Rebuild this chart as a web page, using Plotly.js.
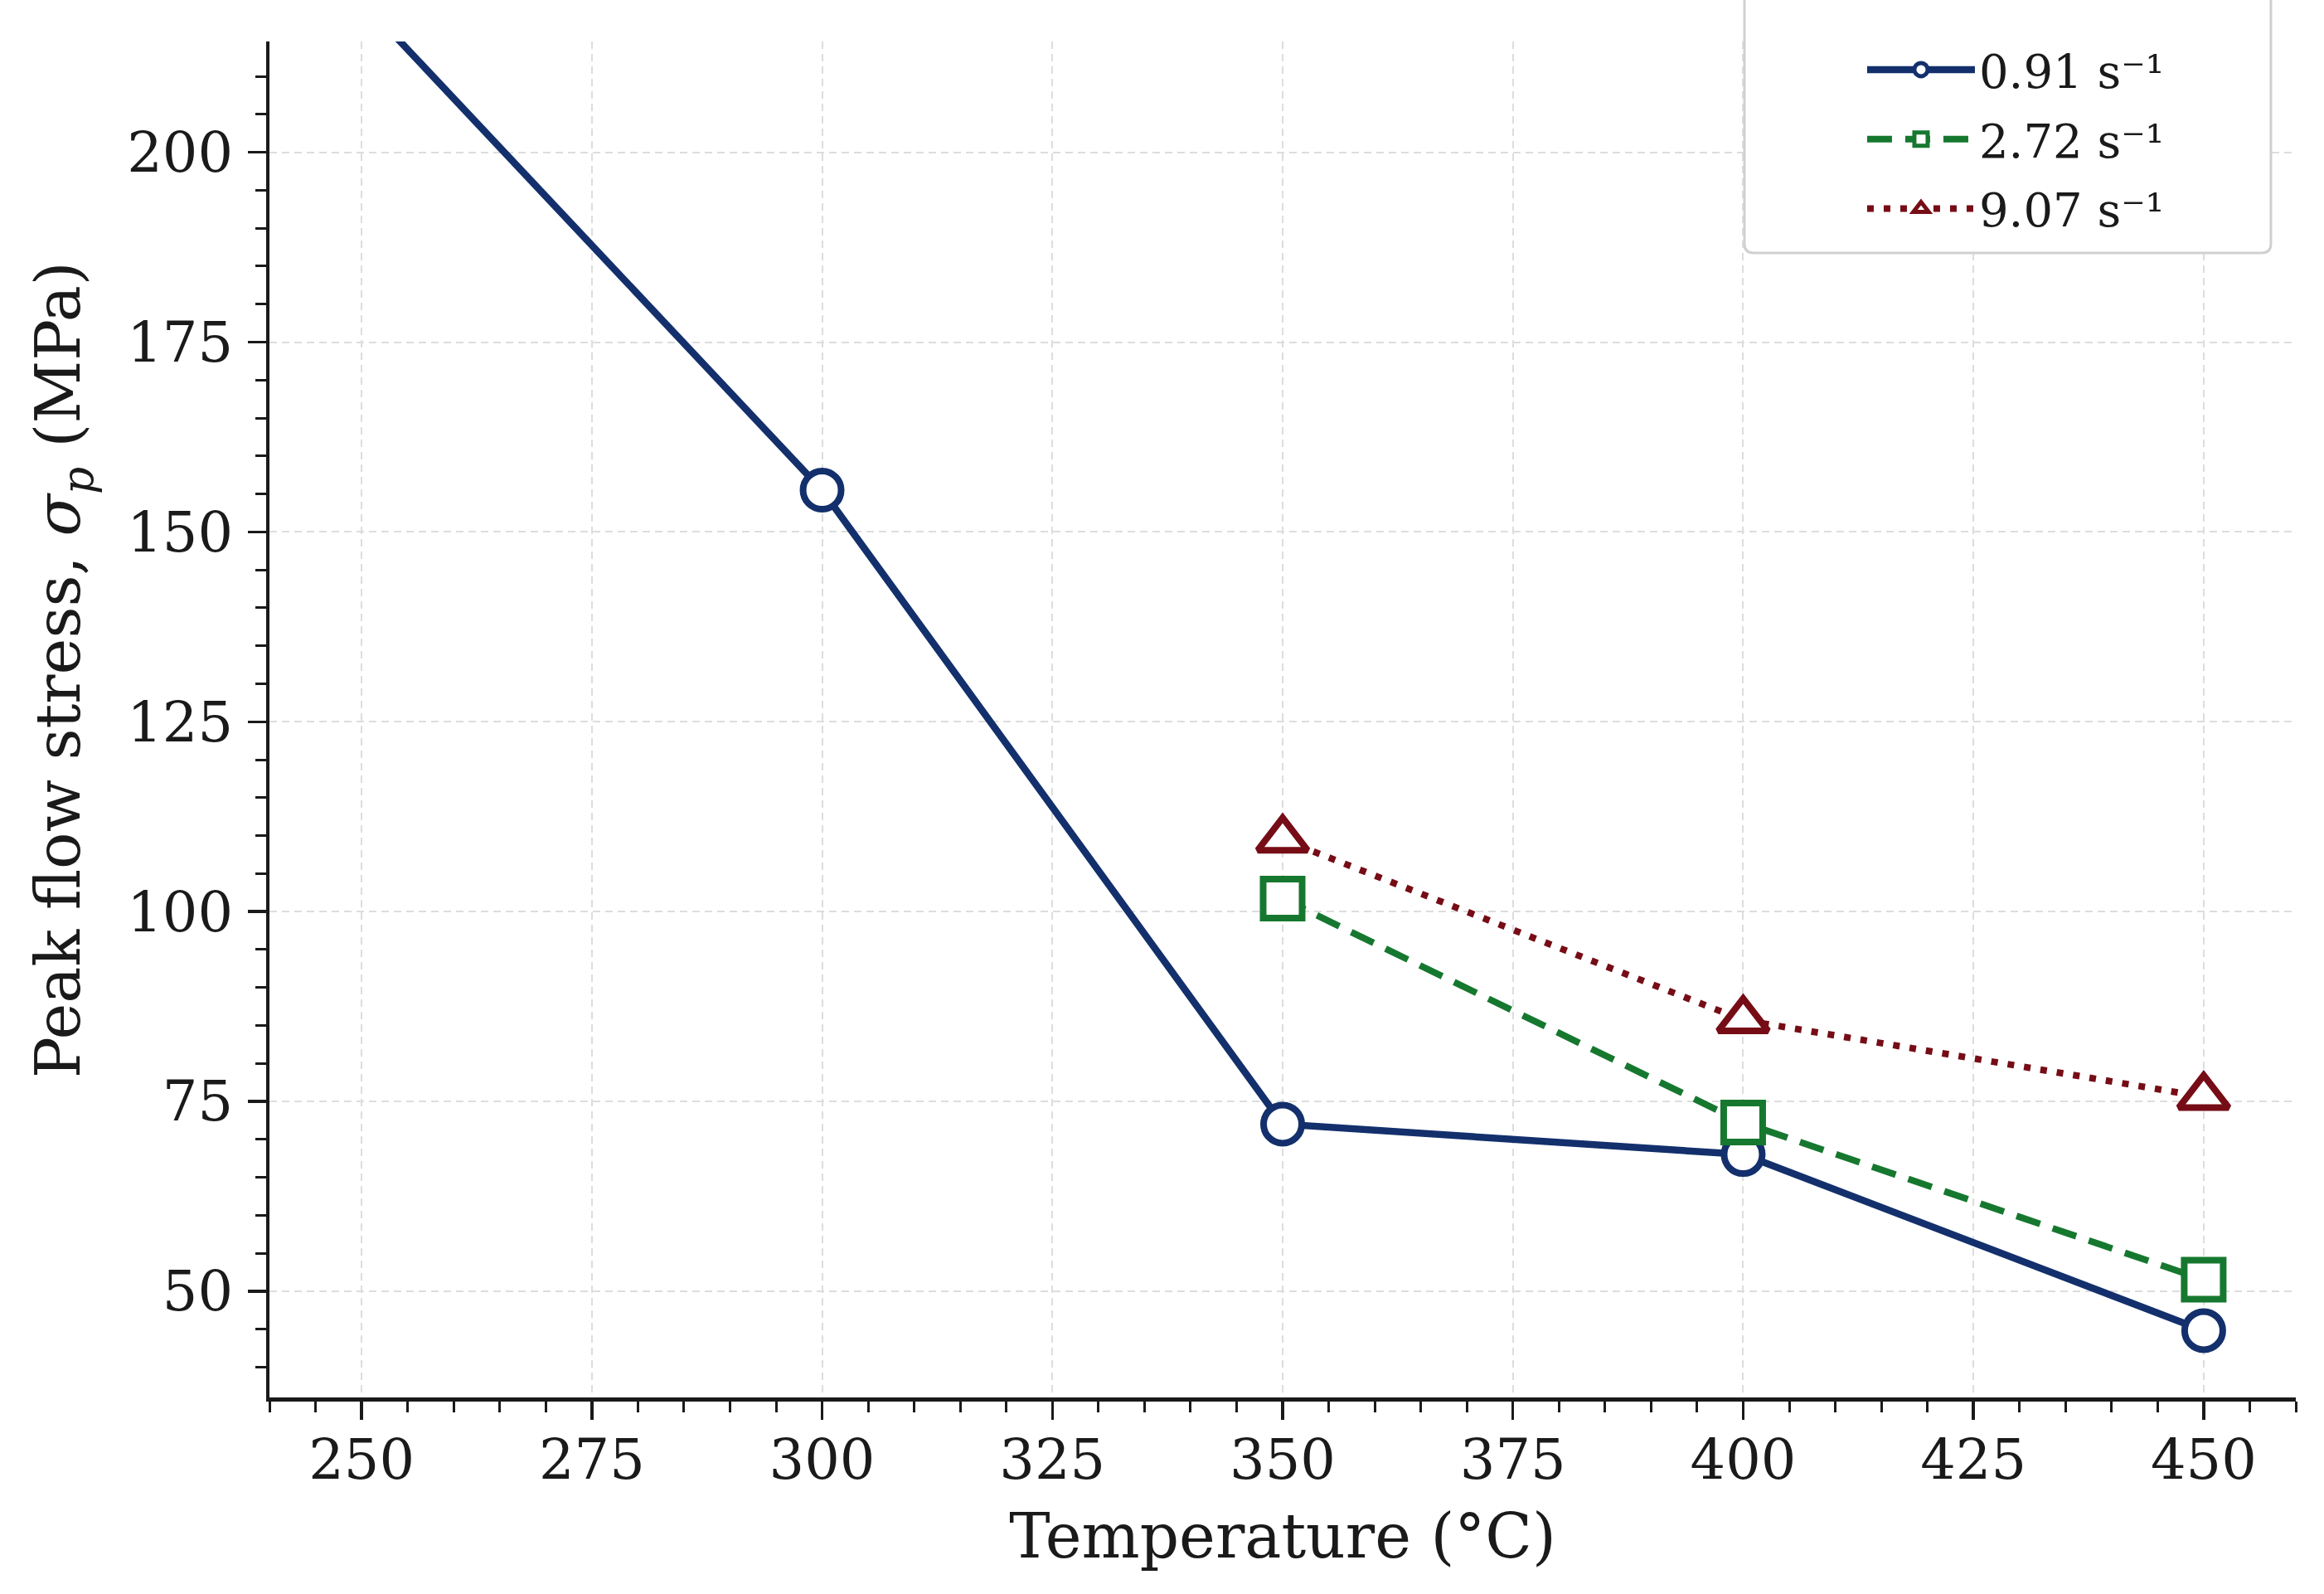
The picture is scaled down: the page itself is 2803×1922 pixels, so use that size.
<!DOCTYPE html>
<html>
<head>
<meta charset="utf-8">
<script src="https://cdn.plot.ly/plotly-3.0.1.min.js"></script>
<style>
  html, body { margin: 0; padding: 0; background: #ffffff; }
  #chart { width: 2803px; height: 1922px; }
</style>
</head>
<body>
<div id="chart"></div>
<script>
// Data
const temperature = [250, 300, 350, 400, 450];
const temps_hi = [350, 400, 450];
const stress_091 = [220, 155.5, 72, 68, 44.8];
const stress_272 = [101.7, 72.2, 51.5];
const stress_907 = [109.5, 85.7, 75.6];
const seriesNames = ["0.91 s⁻¹", "2.72 s⁻¹", "9.07 s⁻¹"];
const xTicks = [250, 275, 300, 325, 350, 375, 400, 425, 450];
const yTicks = [50, 75, 100, 125, 150, 175, 200];
const xTitle = "Temperature (°C)";
const yTitle = "Peak flow stress, <i>σ</i><sub><i>p</i></sub> (MPa)";

const FONT = "DejaVu Serif, Liberation Serif, serif";
const INK = "#1a1a1a";
const BLUE = "#13306c";
const GREEN = "#16782f";
const RED = "#760d16";

const traces = [
  {
    x: temperature, y: stress_091, name: seriesNames[0], legendgroup: "a", type: "scatter", mode: "lines+markers",
    line: { color: BLUE, width: 8.5, dash: "solid" },
    marker: { symbol: "circle", size: 46, color: "#ffffff", line: { color: BLUE, width: 8 } }
  },
  {
    x: temps_hi, y: stress_272, name: seriesNames[1], legendgroup: "b", type: "scatter", mode: "lines+markers",
    line: { color: GREEN, width: 8, dash: "30px,16px" },
    marker: { symbol: "square", size: 47, color: "#ffffff", line: { color: GREEN, width: 8 } }
  },
  {
    x: temps_hi, y: stress_907, name: seriesNames[2], legendgroup: "c", type: "scatter", mode: "lines+markers",
    line: { color: RED, width: 8, dash: "8px,12px" },
    marker: { symbol: "triangle-up", size: 52, color: "#ffffff", line: { color: RED, width: 8 } }
  }
];

const axisCommon = {
  showline: true, linecolor: INK, linewidth: 4.5,
  ticks: "outside", ticklen: 22, tickwidth: 3.5, tickcolor: INK,
  showgrid: true, gridcolor: "#dddddd", gridwidth: 2, griddash: "9px,6px",
  zeroline: false, mirror: false,
  tickfont: { family: FONT, size: 67, color: INK }
};

// rounded legend frame (paper coordinates)
const fx0 = 0.7279, fx1 = 0.9877, fyb = 0.844, fyt = 1.2, rx = 0.0045, ry = 0.0067;
const framePath = `M${fx0},${fyt} L${fx0},${fyb + ry} Q${fx0},${fyb} ${fx0 + rx},${fyb} L${fx1 - rx},${fyb} Q${fx1},${fyb} ${fx1},${fyb + ry} L${fx1},${fyt} Z`;

const layout = {
  width: 2803, height: 1922,
  paper_bgcolor: "#ffffff", plot_bgcolor: "#ffffff",
  margin: { l: 325, r: 34, t: 50, b: 237 },
  showlegend: true,
  font: { family: FONT, color: INK },
  xaxis: Object.assign({}, axisCommon, {
    range: [240, 460], tickmode: "array", tickvals: xTicks, ticktext: xTicks.map(String),
    ticklabelstandoff: -9,
    minor: { dtick: 5, tick0: 250, ticks: "outside", ticklen: 13, tickwidth: 3, tickcolor: INK, showgrid: false },
    title: { text: xTitle, font: { family: FONT, size: 74, color: INK }, standoff: 30 }
  }),
  yaxis: Object.assign({}, axisCommon, {
    range: [36, 214.6], tickmode: "array", tickvals: yTicks, ticktext: yTicks.map(String),
    ticklabelstandoff: 4,
    minor: { dtick: 5, tick0: 50, ticks: "outside", ticklen: 13, tickwidth: 3, tickcolor: INK, showgrid: false }
  }),
  annotations: [{
    text: yTitle, xref: "paper", yref: "paper", x: -0.1023, y: 0.537,
    xanchor: "center", yanchor: "middle", textangle: -90, showarrow: false,
    font: { family: FONT, size: 74, color: INK }
  }],
  shapes: [{
    type: "path", path: framePath, xref: "paper", yref: "paper", layer: "above",
    fillcolor: "#ffffff", line: { color: "#d0d0d0", width: 3 }
  }],
  legend: {
    x: 0.7864, xanchor: "left", y: 1.0055, yanchor: "top",
    bgcolor: "rgba(0,0,0,0)", borderwidth: 0,
    font: { family: FONT, size: 56, color: INK },
    itemwidth: 130, tracegroupgap: 8
  }
};

Plotly.newPlot("chart", traces, layout, { staticPlot: true, displayModeBar: false });
</script>
</body>
</html>
